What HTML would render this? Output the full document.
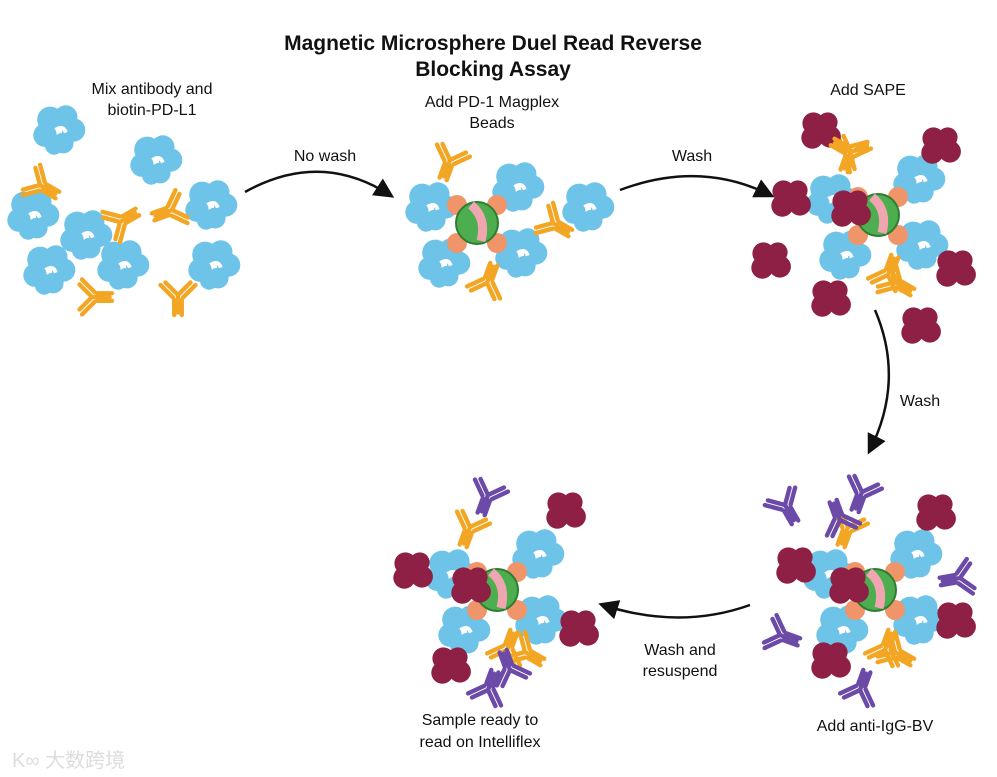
<!DOCTYPE html><html><head><meta charset="utf-8"><style>body{margin:0;background:#fff}svg{display:block}text{font-family:"Liberation Sans",sans-serif;font-size:16px;fill:#111}</style></head><body>
<svg width="997" height="777" viewBox="0 0 997 777">
<defs>
<g id="bp"><g transform="scale(1.3)"><g fill="#6ec3e8"><circle cx="-6" cy="-8" r="10"/><circle cx="6" cy="-10" r="9"/><circle cx="12" cy="0" r="9"/><circle cx="-10" cy="4" r="9"/><circle cx="4" cy="10" r="8"/><circle cx="-3" cy="12" r="7"/></g><path d="M-2 0 q6 -4 8 2" stroke="#fff" stroke-width="3" fill="none"/></g></g>
<g id="ab"><g transform="scale(1.25)" stroke-width="3.5" stroke-linecap="round" fill="none"><path d="M0 0 L0 14 M0 0 L-10 -10 M0 0 L10 -10 M-4 2 L-14 -8 M4 2 L14 -8 M-3 4 L-3 16 M3 4 L3 16"/></g></g>
<g id="sa" fill="#8e1f45"><g transform="scale(1.1)"><circle cx="-6" cy="-6" r="10"/><circle cx="7" cy="-7" r="9"/><circle cx="9" cy="6" r="10"/><circle cx="-7" cy="7" r="10"/><circle cx="0" cy="0" r="10"/></g></g>
<g id="cl">
<use href="#bp" x="-47" y="-16"/><use href="#bp" x="-34" y="40"/><use href="#bp" x="40" y="-36"/><use href="#bp" x="43" y="30"/>
<g fill="#f0946a"><circle cx="-20" cy="-18" r="10"/><circle cx="20" cy="-18" r="10"/><circle cx="-20" cy="20" r="10"/><circle cx="20" cy="20" r="10"/></g>
<circle r="21" fill="#4cae4f" stroke="#2e7d32" stroke-width="2"/><path d="M-6 -18 Q10 -5 4 18" stroke="#f0a6b0" stroke-width="9" fill="none"/>
<use href="#ab" x="-27" y="-63" stroke="#f2a623" transform="rotate(20 -27 -63)"/><use href="#ab" x="10" y="60" stroke="#f2a623" transform="rotate(200 10 60)"/>
</g>
<marker id="ah" markerWidth="8" markerHeight="8" refX="6" refY="4" orient="auto"><path d="M0 0 L8 4 L0 8 Z" fill="#111"/></marker>
</defs>
<text x="493" y="50" text-anchor="middle" style="font-weight:bold;font-size:21px">Magnetic Microsphere Duel Read Reverse</text>
<text x="493" y="76" text-anchor="middle" style="font-weight:bold;font-size:21px">Blocking Assay</text>
<text x="152" y="94" text-anchor="middle">Mix antibody and</text><text x="152" y="115" text-anchor="middle">biotin-PD-L1</text>
<text x="492" y="107" text-anchor="middle">Add PD-1 Magplex</text><text x="492" y="128" text-anchor="middle">Beads</text>
<text x="868" y="95" text-anchor="middle">Add SAPE</text>
<text x="325" y="161" text-anchor="middle">No wash</text><text x="692" y="161" text-anchor="middle">Wash</text>
<text x="920" y="406" text-anchor="middle">Wash</text>
<text x="680" y="655" text-anchor="middle">Wash and</text><text x="680" y="676" text-anchor="middle">resuspend</text>
<text x="875" y="731" text-anchor="middle">Add anti-IgG-BV</text>
<text x="480" y="725" text-anchor="middle">Sample ready to</text><text x="480" y="747" text-anchor="middle">read on Intelliflex</text>
<g fill="none" stroke="#111" stroke-width="2.5" marker-end="url(#ah)">
<path d="M245 192 Q320 150 390 195"/><path d="M620 190 Q700 160 770 195"/><path d="M875 310 Q905 380 870 450"/><path d="M750 605 Q680 630 603 605"/></g>
<!-- panel 1 -->
<use href="#bp" x="58" y="130"/><use href="#bp" x="155" y="160"/><use href="#bp" x="32" y="215"/><use href="#bp" x="85" y="235"/><use href="#bp" x="210" y="205"/><use href="#bp" x="122" y="265"/><use href="#bp" x="48" y="270"/><use href="#bp" x="213" y="265"/>
<g stroke="#f2a623"><use href="#ab" x="40" y="185" transform="rotate(-60 40 185)"/><use href="#ab" x="172" y="210" transform="rotate(70 172 210)"/><use href="#ab" x="92" y="297" transform="rotate(-90 92 297)"/><use href="#ab" x="178" y="295" transform="rotate(0 178 295)"/><use href="#ab" x="120" y="222" transform="rotate(-120 120 222)"/></g>
<!-- panel 2 -->
<use href="#cl" x="477" y="223"/><use href="#bp" x="587" y="207"/><use href="#ab" x="553" y="223" stroke="#f2a623" transform="rotate(-60 553 223)"/>
<!-- panel 3 -->
<use href="#cl" x="878" y="215"/><use href="#sa" x="850" y="208"/><use href="#sa" x="790" y="198"/><use href="#sa" x="820" y="130"/><use href="#sa" x="940" y="145"/><use href="#sa" x="770" y="260"/><use href="#sa" x="955" y="268"/><use href="#sa" x="830" y="298"/><use href="#sa" x="920" y="325"/><use href="#ab" x="850" y="152" stroke="#f2a623" transform="rotate(120 850 152)"/><use href="#ab" x="895" y="282" stroke="#f2a623" transform="rotate(-60 895 282)"/>
<!-- panel 4 -->
<use href="#cl" x="875" y="590"/><use href="#sa" x="848" y="585"/><use href="#sa" x="795" y="565"/><use href="#sa" x="935" y="512"/><use href="#sa" x="955" y="620"/><use href="#sa" x="830" y="660"/><use href="#ab" x="895" y="652" stroke="#f2a623" transform="rotate(-60 895 652)"/>
<g stroke="#6b4aa8"><use href="#ab" x="785" y="505" transform="rotate(-30 785 505)"/><use href="#ab" x="862" y="492" transform="rotate(20 862 492)"/><use href="#ab" x="960" y="578" transform="rotate(80 960 578)"/><use href="#ab" x="780" y="635" transform="rotate(-70 780 635)"/><use href="#ab" x="860" y="690" transform="rotate(200 860 690)"/><use href="#ab" x="840" y="520" transform="rotate(160 840 520)"/></g>
<!-- panel 5 -->
<use href="#cl" x="497" y="590"/><use href="#sa" x="470" y="585"/><use href="#sa" x="412" y="570"/><use href="#sa" x="565" y="510"/><use href="#sa" x="578" y="628"/><use href="#sa" x="450" y="665"/><use href="#ab" x="525" y="652" stroke="#f2a623" transform="rotate(-60 525 652)"/>
<g stroke="#6b4aa8"><use href="#ab" x="488" y="495" transform="rotate(20 488 495)"/><use href="#ab" x="488" y="690" transform="rotate(200 488 690)"/><use href="#ab" x="510" y="670" transform="rotate(160 510 670)"/></g>
<text x="12" y="767" style="fill:#ddd;font-size:20px;font-family:'Liberation Sans','Noto Sans CJK SC',sans-serif">K∞ 大数跨境</text>
</svg></body></html>
